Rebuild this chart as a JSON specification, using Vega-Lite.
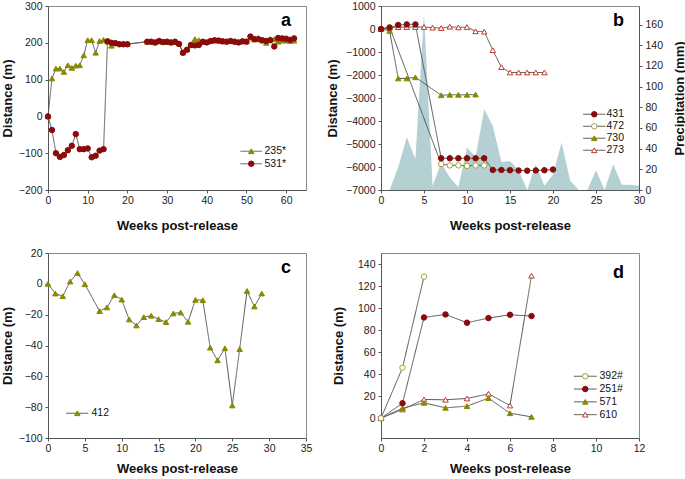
{
  "$schema": "https://vega.github.io/schema/vega-lite/v6.json",
  "background": "white",
  "padding": {"left": 0, "top": 0, "right": 0, "bottom": 0},
  "config": {
    "view": {"stroke": "#8a8a8a", "strokeWidth": 1},
    "axis": {"grid": false, "domainColor": "#555", "tickColor": "#555", "tickSize": 3, "labelPadding": 3, "labelFont": "Liberation Sans", "labelFontSize": 10.5, "labelColor": "#222", "titleFont": "Liberation Sans", "titleFontSize": 13, "titleFontWeight": "bold", "titleColor": "#111", "labelFlush": false, "labelOverlap": false},
    "axisX": {"titlePadding": 14, "labelPadding": 2},
    "axisY": {"format": "d"},
    "legend": {"labelFont": "Liberation Sans", "labelFontSize": 10.5, "labelColor": "#111"},
    "title": {"font": "Liberation Sans", "fontSize": 18, "fontWeight": "bold", "anchor": "end", "frame": "group", "offset": -29, "dx": -15, "color": "#000"}
  },
  "datasets": {
    "a": [
      {"week": 0, "dist": 0, "id": "235*"}, {"week": 1, "dist": 103, "id": "235*"}, {"week": 2, "dist": 130, "id": "235*"}, {"week": 3, "dist": 130, "id": "235*"}, {"week": 4, "dist": 121, "id": "235*"}, {"week": 5, "dist": 139, "id": "235*"}, {"week": 6, "dist": 132, "id": "235*"}, {"week": 7, "dist": 138, "id": "235*"}, {"week": 8, "dist": 139, "id": "235*"}, {"week": 9, "dist": 166, "id": "235*"}, {"week": 10, "dist": 207, "id": "235*"}, {"week": 11, "dist": 207, "id": "235*"}, {"week": 12, "dist": 173, "id": "235*"}, {"week": 13, "dist": 205, "id": "235*"}, {"week": 14, "dist": 208, "id": "235*"}, {"week": 15, "dist": 203, "id": "235*"}, {"week": 16, "dist": 192, "id": "235*"}, {"week": 17, "dist": 200, "id": "235*"}, {"week": 18, "dist": 198, "id": "235*"}, {"week": 19, "dist": 197, "id": "235*"}, {"week": 20, "dist": 197, "id": "235*"},
      {"week": 25, "dist": 203, "id": "235*"}, {"week": 26, "dist": 203, "id": "235*"}, {"week": 27, "dist": 201, "id": "235*"}, {"week": 28, "dist": 204, "id": "235*"}, {"week": 29, "dist": 202, "id": "235*"}, {"week": 30, "dist": 202, "id": "235*"}, {"week": 31, "dist": 201, "id": "235*"}, {"week": 32, "dist": 202, "id": "235*"}, {"week": 33, "dist": 198, "id": "235*"}, {"week": 34, "dist": 174, "id": "235*"}, {"week": 35, "dist": 182, "id": "235*"}, {"week": 36, "dist": 194, "id": "235*"}, {"week": 37, "dist": 210, "id": "235*"}, {"week": 38, "dist": 207, "id": "235*"}, {"week": 39, "dist": 203, "id": "235*"}, {"week": 40, "dist": 202, "id": "235*"}, {"week": 41, "dist": 205, "id": "235*"}, {"week": 42, "dist": 206, "id": "235*"}, {"week": 43, "dist": 206, "id": "235*"}, {"week": 44, "dist": 204, "id": "235*"}, {"week": 45, "dist": 204, "id": "235*"}, {"week": 46, "dist": 205, "id": "235*"}, {"week": 47, "dist": 204, "id": "235*"}, {"week": 48, "dist": 202, "id": "235*"}, {"week": 49, "dist": 205, "id": "235*"}, {"week": 50, "dist": 204, "id": "235*"}, {"week": 51, "dist": 214, "id": "235*"}, {"week": 52, "dist": 209, "id": "235*"}, {"week": 53, "dist": 213, "id": "235*"}, {"week": 54, "dist": 206, "id": "235*"}, {"week": 55, "dist": 200, "id": "235*"}, {"week": 56, "dist": 210, "id": "235*"}, {"week": 57, "dist": 210, "id": "235*"}, {"week": 58, "dist": 203, "id": "235*"}, {"week": 59, "dist": 206, "id": "235*"}, {"week": 60, "dist": 206, "id": "235*"}, {"week": 61, "dist": 205, "id": "235*"}, {"week": 62, "dist": 206, "id": "235*"},
      {"week": 0, "dist": 0, "id": "531*"}, {"week": 1, "dist": -37, "id": "531*"}, {"week": 2, "dist": -100, "id": "531*"}, {"week": 3, "dist": -110, "id": "531*"}, {"week": 4, "dist": -105, "id": "531*"}, {"week": 5, "dist": -92, "id": "531*"}, {"week": 6, "dist": -80, "id": "531*"}, {"week": 7, "dist": -48, "id": "531*"}, {"week": 8, "dist": -89, "id": "531*"}, {"week": 9, "dist": -89, "id": "531*"}, {"week": 10, "dist": -87, "id": "531*"}, {"week": 11, "dist": -111, "id": "531*"}, {"week": 12, "dist": -107, "id": "531*"}, {"week": 13, "dist": -93, "id": "531*"}, {"week": 14, "dist": -89, "id": "531*"}, {"week": 15, "dist": 204, "id": "531*"}, {"week": 16, "dist": 200, "id": "531*"}, {"week": 17, "dist": 199, "id": "531*"}, {"week": 18, "dist": 196, "id": "531*"}, {"week": 19, "dist": 196, "id": "531*"}, {"week": 20, "dist": 196, "id": "531*"},
      {"week": 25, "dist": 203, "id": "531*"}, {"week": 26, "dist": 203, "id": "531*"}, {"week": 27, "dist": 201, "id": "531*"}, {"week": 28, "dist": 205, "id": "531*"}, {"week": 29, "dist": 202, "id": "531*"}, {"week": 30, "dist": 203, "id": "531*"}, {"week": 31, "dist": 201, "id": "531*"}, {"week": 32, "dist": 203, "id": "531*"}, {"week": 33, "dist": 197, "id": "531*"}, {"week": 34, "dist": 173, "id": "531*"}, {"week": 35, "dist": 181, "id": "531*"}, {"week": 36, "dist": 194, "id": "531*"}, {"week": 37, "dist": 193, "id": "531*"}, {"week": 38, "dist": 194, "id": "531*"}, {"week": 39, "dist": 203, "id": "531*"}, {"week": 40, "dist": 201, "id": "531*"}, {"week": 41, "dist": 205, "id": "531*"}, {"week": 42, "dist": 207, "id": "531*"}, {"week": 43, "dist": 206, "id": "531*"}, {"week": 44, "dist": 204, "id": "531*"}, {"week": 45, "dist": 203, "id": "531*"}, {"week": 46, "dist": 205, "id": "531*"}, {"week": 47, "dist": 203, "id": "531*"}, {"week": 48, "dist": 201, "id": "531*"}, {"week": 49, "dist": 204, "id": "531*"}, {"week": 50, "dist": 203, "id": "531*"}, {"week": 51, "dist": 217, "id": "531*"}, {"week": 52, "dist": 210, "id": "531*"}, {"week": 53, "dist": 210, "id": "531*"}, {"week": 54, "dist": 207, "id": "531*"}, {"week": 55, "dist": 205, "id": "531*"}, {"week": 56, "dist": 207, "id": "531*"}, {"week": 57, "dist": 190, "id": "531*"}, {"week": 58, "dist": 213, "id": "531*"}, {"week": 59, "dist": 212, "id": "531*"}, {"week": 60, "dist": 211, "id": "531*"}, {"week": 61, "dist": 208, "id": "531*"}, {"week": 62, "dist": 212, "id": "531*"}
    ],
    "b": [
      {"week": 0, "dist": 0, "id": "273"}, {"week": 1, "dist": 60, "id": "273"}, {"week": 2, "dist": 80, "id": "273"}, {"week": 3, "dist": 85, "id": "273"}, {"week": 4, "dist": 85, "id": "273"}, {"week": 5, "dist": 85, "id": "273"}, {"week": 6, "dist": 60, "id": "273"}, {"week": 7, "dist": 40, "id": "273"}, {"week": 8, "dist": 100, "id": "273"}, {"week": 9, "dist": 70, "id": "273"}, {"week": 10, "dist": 85, "id": "273"}, {"week": 11, "dist": -100, "id": "273"}, {"week": 12, "dist": -115, "id": "273"}, {"week": 13, "dist": -920, "id": "273"}, {"week": 14, "dist": -1660, "id": "273"}, {"week": 15, "dist": -1890, "id": "273"}, {"week": 16, "dist": -1890, "id": "273"}, {"week": 17, "dist": -1890, "id": "273"}, {"week": 18, "dist": -1890, "id": "273"}, {"week": 19, "dist": -1890, "id": "273"},
      {"week": 0, "dist": 0, "id": "730"}, {"week": 1, "dist": -80, "id": "730"}, {"week": 2, "dist": -2150, "id": "730"}, {"week": 3, "dist": -2150, "id": "730"}, {"week": 4, "dist": -2100, "id": "730"}, {"week": 7, "dist": -2880, "id": "730"}, {"week": 8, "dist": -2860, "id": "730"}, {"week": 9, "dist": -2860, "id": "730"}, {"week": 10, "dist": -2860, "id": "730"}, {"week": 11, "dist": -2850, "id": "730"},
      {"week": 0, "dist": 0, "id": "472"}, {"week": 1, "dist": 80, "id": "472"}, {"week": 7, "dist": -5870, "id": "472"}, {"week": 8, "dist": -5930, "id": "472"}, {"week": 9, "dist": -5930, "id": "472"}, {"week": 10, "dist": -5950, "id": "472"}, {"week": 11, "dist": -5930, "id": "472"}, {"week": 12, "dist": -5930, "id": "472"},
      {"week": 0, "dist": 0, "id": "431"}, {"week": 1, "dist": 60, "id": "431"}, {"week": 2, "dist": 173, "id": "431"}, {"week": 3, "dist": 200, "id": "431"}, {"week": 4, "dist": 200, "id": "431"}, {"week": 7, "dist": -5620, "id": "431"}, {"week": 8, "dist": -5620, "id": "431"}, {"week": 9, "dist": -5620, "id": "431"}, {"week": 10, "dist": -5620, "id": "431"}, {"week": 11, "dist": -5620, "id": "431"}, {"week": 12, "dist": -5620, "id": "431"}, {"week": 13, "dist": -6130, "id": "431"}, {"week": 14, "dist": -6130, "id": "431"}, {"week": 15, "dist": -6140, "id": "431"}, {"week": 16, "dist": -6150, "id": "431"}, {"week": 17, "dist": -6160, "id": "431"}, {"week": 18, "dist": -6150, "id": "431"}, {"week": 19, "dist": -6140, "id": "431"}, {"week": 20, "dist": -6110, "id": "431"}
    ],
    "bp": [
      {"week": 1, "precip": 0}, {"week": 2, "precip": 22}, {"week": 3, "precip": 51}, {"week": 4, "precip": 30}, {"week": 5, "precip": 171}, {"week": 6, "precip": 4}, {"week": 7, "precip": 26}, {"week": 8, "precip": 12}, {"week": 9, "precip": 3}, {"week": 10, "precip": 41}, {"week": 11, "precip": 32}, {"week": 12, "precip": 78}, {"week": 13, "precip": 62}, {"week": 14, "precip": 27}, {"week": 15, "precip": 28}, {"week": 16, "precip": 19}, {"week": 17, "precip": 0}, {"week": 18, "precip": 25}, {"week": 19, "precip": 4}, {"week": 20, "precip": 15}, {"week": 21, "precip": 46}, {"week": 22, "precip": 9}, {"week": 23, "precip": 0}, {"week": 24, "precip": 0}, {"week": 25, "precip": 19}, {"week": 26, "precip": 0}, {"week": 27, "precip": 25}, {"week": 28, "precip": 5}, {"week": 29, "precip": 5}, {"week": 30, "precip": 4}
    ],
    "c": [
      {"week": 0, "dist": 0, "id": "412"}, {"week": 1, "dist": -6.3, "id": "412"}, {"week": 2, "dist": -8, "id": "412"}, {"week": 3, "dist": 1.5, "id": "412"}, {"week": 4, "dist": 7, "id": "412"}, {"week": 5, "dist": -0.3, "id": "412"}, {"week": 7, "dist": -17.7, "id": "412"}, {"week": 8, "dist": -15.3, "id": "412"}, {"week": 9, "dist": -7.4, "id": "412"}, {"week": 10, "dist": -10.2, "id": "412"}, {"week": 11, "dist": -23.1, "id": "412"}, {"week": 12, "dist": -27, "id": "412"}, {"week": 13, "dist": -21.6, "id": "412"}, {"week": 14, "dist": -20.7, "id": "412"}, {"week": 15, "dist": -22.9, "id": "412"}, {"week": 16, "dist": -24.8, "id": "412"}, {"week": 17, "dist": -19.2, "id": "412"}, {"week": 18, "dist": -18.6, "id": "412"}, {"week": 19, "dist": -24.6, "id": "412"}, {"week": 20, "dist": -10.4, "id": "412"}, {"week": 21, "dist": -10.6, "id": "412"}, {"week": 22, "dist": -41.4, "id": "412"}, {"week": 23, "dist": -49.6, "id": "412"}, {"week": 24, "dist": -41.8, "id": "412"}, {"week": 25, "dist": -78.9, "id": "412"}, {"week": 26, "dist": -42.3, "id": "412"}, {"week": 27, "dist": -4.6, "id": "412"}, {"week": 28, "dist": -14.7, "id": "412"}, {"week": 29, "dist": -6.3, "id": "412"}
    ],
    "d": [
      {"week": 0, "dist": 0, "id": "610"}, {"week": 1, "dist": 7.9, "id": "610"}, {"week": 2, "dist": 17, "id": "610"}, {"week": 3, "dist": 16.7, "id": "610"}, {"week": 4, "dist": 17.9, "id": "610"}, {"week": 5, "dist": 22.1, "id": "610"}, {"week": 6, "dist": 11.5, "id": "610"}, {"week": 7, "dist": 129.4, "id": "610"},
      {"week": 0, "dist": 0, "id": "571"}, {"week": 1, "dist": 9.1, "id": "571"}, {"week": 2, "dist": 13.9, "id": "571"}, {"week": 3, "dist": 9.4, "id": "571"}, {"week": 4, "dist": 10.9, "id": "571"}, {"week": 5, "dist": 18.2, "id": "571"}, {"week": 6, "dist": 4.5, "id": "571"}, {"week": 7, "dist": 1.2, "id": "571"},
      {"week": 0, "dist": 0, "id": "251#"}, {"week": 1, "dist": 13.6, "id": "251#"}, {"week": 2, "dist": 91.5, "id": "251#"}, {"week": 3, "dist": 94.2, "id": "251#"}, {"week": 4, "dist": 86.7, "id": "251#"}, {"week": 5, "dist": 90.9, "id": "251#"}, {"week": 6, "dist": 93.9, "id": "251#"}, {"week": 7, "dist": 92.7, "id": "251#"},
      {"week": 0, "dist": 0, "id": "392#"}, {"week": 1, "dist": 45.8, "id": "392#"}, {"week": 2, "dist": 128.5, "id": "392#"}
    ]
  },
  "spacing": 14,
  "resolve": {"scale": {"stroke": "independent", "fill": "independent", "shape": "independent", "strokeDash": "independent"}, "legend": {"stroke": "independent", "fill": "independent", "shape": "independent", "strokeDash": "independent"}},
  "vconcat": [
    {
      "spacing": 18,
      "resolve": {"scale": {"stroke": "independent", "fill": "independent", "shape": "independent", "strokeDash": "independent"}, "legend": {"stroke": "independent", "fill": "independent", "shape": "independent", "strokeDash": "independent"}},
      "hconcat": [
        {
          "width": 258, "height": 184,
          "title": "a",
          "data": {"name": "a"},
          "encoding": {
            "x": {"field": "week", "type": "quantitative", "scale": {"domain": [0, 65], "nice": false}, "axis": {"title": "Weeks post-release", "values": [0, 10, 20, 30, 40, 50, 60]}},
            "y": {"field": "dist", "type": "quantitative", "scale": {"domain": [-200, 300], "nice": false, "zero": false}, "axis": {"title": "Distance (m)", "values": [-200, -100, 0, 100, 200, 300], "minExtent": 29, "maxExtent": 29, "titlePadding": 5}}
          },
          "layer": [
            {"mark": {"type": "line", "color": "#555", "strokeWidth": 1},
             "encoding": {"strokeDash": {"field": "id", "type": "nominal", "scale": {"range": [[1, 0], [1, 0]]},
               "legend": {"orient": "none", "legendX": 198, "legendY": 140, "title": null, "padding": 0, "labelOpacity": 0, "labelExpr": "' '", "symbolType": "M-3.6,0L3.6,0", "symbolSize": 36, "symbolStrokeWidth": 1, "rowPadding": 1.5,
                 "encode": {"symbols": {"update": {"stroke": {"value": "#555"}, "fill": {"value": "transparent"}, "strokeWidth": {"value": 1}}}}}}}},
            {"mark": {"type": "point", "filled": true, "size": 30, "strokeWidth": 1, "opacity": 1},
             "encoding": {
               "stroke": {"field": "id", "type": "nominal", "scale": {"domain": ["235*", "531*"], "range": ["#898900", "#8b0a0a"]},
                 "legend": {"orient": "none", "legendX": 198, "legendY": 140, "title": null, "padding": 0, "labelOffset": 8, "symbolSize": 30, "symbolStrokeWidth": 1, "rowPadding": 1.5}},
               "fill": {"field": "id", "type": "nominal", "scale": {"domain": ["235*", "531*"], "range": ["#898900", "#8b0a0a"]}},
               "shape": {"field": "id", "type": "nominal", "scale": {"domain": ["235*", "531*"], "range": ["triangle-up", "circle"]}}
             }}
          ]
        },
        {
          "width": 258, "height": 184,
          "title": "b",
          "layer": [
            {"data": {"name": "bp"}, "mark": {"type": "area", "color": "#b4d0d2", "opacity": 1},
             "encoding": {
               "x": {"field": "week", "type": "quantitative", "scale": {"domain": [0, 30], "nice": false}, "axis": {"title": "Weeks post-release", "values": [0, 5, 10, 15, 20, 25, 30]}},
               "y": {"field": "precip", "type": "quantitative", "scale": {"domain": [0, 178], "nice": false}, "axis": {"orient": "right", "title": "Precipitation (mm)", "values": [0, 20, 40, 60, 80, 100, 120, 140, 160], "titleAngle": 270, "titleBaseline": "top", "minExtent": 26, "maxExtent": 26, "titlePadding": 8}}
             }},
            {"data": {"name": "b"},
             "encoding": {
               "x": {"field": "week", "type": "quantitative", "scale": {"domain": [0, 30], "nice": false}, "axis": {"title": "Weeks post-release", "values": [0, 5, 10, 15, 20, 25, 30]}},
               "y": {"field": "dist", "type": "quantitative", "scale": {"domain": [-7000, 1000], "nice": false, "zero": false}, "axis": {"orient": "left", "title": "Distance (m)", "values": [-7000, -6000, -5000, -4000, -3000, -2000, -1000, 0, 1000], "minExtent": 35, "maxExtent": 35, "titlePadding": 7}}
             },
             "layer": [
               {"mark": {"type": "line", "color": "#555", "strokeWidth": 1},
                "encoding": {"strokeDash": {"field": "id", "type": "nominal", "scale": {"range": [[1, 0], [1, 0], [1, 0], [1, 0]]},
                  "legend": {"orient": "none", "legendX": 208, "legendY": 103, "title": null, "padding": 0, "labelOpacity": 0, "labelExpr": "' '", "symbolType": "M-3.7,0L3.7,0", "symbolSize": 36, "symbolStrokeWidth": 1, "rowPadding": 1,
                    "encode": {"symbols": {"update": {"stroke": {"value": "#555"}, "fill": {"value": "transparent"}, "strokeWidth": {"value": 1}}}}}}}},
               {"mark": {"type": "point", "filled": true, "size": 30, "strokeWidth": 1, "opacity": 1},
                "encoding": {
                  "stroke": {"field": "id", "type": "nominal", "scale": {"domain": ["431", "472", "730", "273"], "range": ["#8b0a0a", "#a3a335", "#898900", "#c0392b"]},
                    "legend": {"orient": "none", "legendX": 208, "legendY": 103, "title": null, "padding": 0, "labelOffset": 7, "symbolSize": 30, "symbolStrokeWidth": 1, "rowPadding": 1}},
                  "fill": {"field": "id", "type": "nominal", "scale": {"domain": ["431", "472", "730", "273"], "range": ["#8b0a0a", "#ffffff", "#898900", "#ffffff"]}},
                  "shape": {"field": "id", "type": "nominal", "scale": {"domain": ["431", "472", "730", "273"], "range": ["circle", "circle", "triangle-up", "triangle-up"]}}
                }}
             ]}
          ],
          "resolve": {"scale": {"y": "independent"}, "axis": {"y": "independent"}}
        }
      ]
    },
    {
      "spacing": 18,
      "resolve": {"scale": {"stroke": "independent", "fill": "independent", "shape": "independent", "strokeDash": "independent"}, "legend": {"stroke": "independent", "fill": "independent", "shape": "independent", "strokeDash": "independent"}},
      "hconcat": [
        {
          "width": 258, "height": 185,
          "title": "c",
          "data": {"name": "c"},
          "encoding": {
            "x": {"field": "week", "type": "quantitative", "scale": {"domain": [0, 35], "nice": false}, "axis": {"title": "Weeks post-release", "values": [0, 5, 10, 15, 20, 25, 30, 35], "titlePadding": 9}},
            "y": {"field": "dist", "type": "quantitative", "scale": {"domain": [-100, 20], "nice": false, "zero": false}, "axis": {"title": "Distance (m)", "values": [-100, -80, -60, -40, -20, 0, 20], "minExtent": 29, "maxExtent": 29, "titlePadding": 5}}
          },
          "layer": [
            {"mark": {"type": "line", "color": "#555", "strokeWidth": 1},
             "encoding": {"strokeDash": {"field": "id", "type": "nominal", "scale": {"range": [[1, 0]]},
               "legend": {"orient": "none", "legendX": 24, "legendY": 155, "title": null, "padding": 0, "labelOpacity": 0, "labelExpr": "' '", "symbolType": "M-3.7,0L3.7,0", "symbolSize": 36, "symbolStrokeWidth": 1, "rowPadding": 1,
                 "encode": {"symbols": {"update": {"stroke": {"value": "#555"}, "fill": {"value": "transparent"}, "strokeWidth": {"value": 1}}}}}}}},
            {"mark": {"type": "point", "filled": true, "size": 30, "strokeWidth": 1, "opacity": 1},
             "encoding": {
               "stroke": {"field": "id", "type": "nominal", "scale": {"domain": ["412"], "range": ["#898900"]},
                 "legend": {"orient": "none", "legendX": 24, "legendY": 155, "title": null, "padding": 0, "labelOffset": 9, "symbolSize": 30, "symbolStrokeWidth": 1, "rowPadding": 1}},
               "fill": {"field": "id", "type": "nominal", "scale": {"domain": ["412"], "range": ["#898900"]}},
               "shape": {"field": "id", "type": "nominal", "scale": {"domain": ["412"], "range": ["triangle-up"]}}
             }}
          ]
        },
        {
          "width": 258, "height": 185,
          "title": "d",
          "data": {"name": "d"},
          "encoding": {
            "x": {"field": "week", "type": "quantitative", "scale": {"domain": [0, 12], "nice": false}, "axis": {"title": "Weeks post-release", "values": [0, 2, 4, 6, 8, 10, 12], "titlePadding": 9}},
            "y": {"field": "dist", "type": "quantitative", "scale": {"domain": [-18, 150], "nice": false, "zero": false}, "axis": {"title": "Distance (m)", "values": [0, 20, 40, 60, 80, 100, 120, 140], "minExtent": 28, "maxExtent": 28, "titlePadding": 8}}
          },
          "layer": [
            {"mark": {"type": "line", "color": "#555", "strokeWidth": 1},
             "encoding": {"strokeDash": {"field": "id", "type": "nominal", "scale": {"range": [[1, 0], [1, 0], [1, 0], [1, 0]]},
               "legend": {"orient": "none", "legendX": 199, "legendY": 118, "title": null, "padding": 0, "labelOpacity": 0, "labelExpr": "' '", "symbolType": "M-3.8,0L3.8,0", "symbolSize": 36, "symbolStrokeWidth": 1, "rowPadding": 1.8,
                 "encode": {"symbols": {"update": {"stroke": {"value": "#555"}, "fill": {"value": "transparent"}, "strokeWidth": {"value": 1}}}}}}}},
            {"mark": {"type": "point", "filled": true, "size": 30, "strokeWidth": 1, "opacity": 1},
             "encoding": {
               "stroke": {"field": "id", "type": "nominal", "scale": {"domain": ["392#", "251#", "571", "610"], "range": ["#a3a335", "#8b0a0a", "#898900", "#c0392b"]},
                 "legend": {"orient": "none", "legendX": 199, "legendY": 118, "title": null, "padding": 0, "labelOffset": 9, "symbolSize": 30, "symbolStrokeWidth": 1, "rowPadding": 1.8}},
               "fill": {"field": "id", "type": "nominal", "scale": {"domain": ["392#", "251#", "571", "610"], "range": ["#ffffff", "#8b0a0a", "#898900", "#ffffff"]}},
               "shape": {"field": "id", "type": "nominal", "scale": {"domain": ["392#", "251#", "571", "610"], "range": ["circle", "circle", "triangle-up", "triangle-up"]}}
             }}
          ]
        }
      ]
    }
  ]
}
